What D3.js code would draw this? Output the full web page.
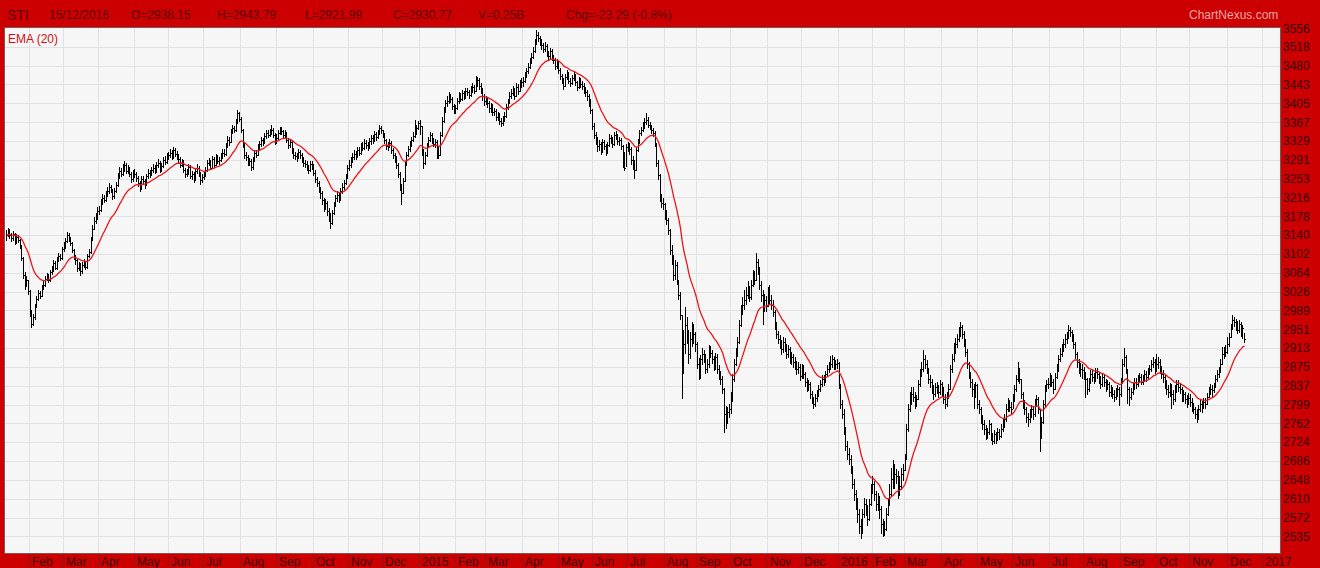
<!DOCTYPE html>
<html><head><meta charset="utf-8">
<script src="https://cdn.jsdelivr.net/npm/d3@7"></script>
<style>html,body{margin:0;padding:0;background:#cc0000;overflow:hidden}svg{display:block}</style>
</head><body><svg id="c" width="1320" height="568"></svg>
<script>
// ---- data ----
const monthLabels = ["Jan","Feb","Mar","Apr","May","Jun","Jul","Aug","Sep","Oct","Nov","Dec",
  "2015","Feb","Mar","Apr","May","Jun","Jul","Aug","Sep","Oct","Nov","Dec",
  "2016","Feb","Mar","Apr","May","Jun","Jul","Aug","Sep","Oct","Nov","Dec","2017"];
const monthDays = [14,20,21,21,20,21,22,21,22,21,20,22,
  21,18,22,21,20,21,22,19,20,22,20,22,
  20,19,22,21,21,22,20,22,21,20,22,21];
const yTicks = [3556,3518,3480,3443,3405,3367,3329,3291,3253,3216,3178,3140,3102,3064,3026,
  2989,2951,2913,2875,2837,2799,2762,2724,2686,2648,2610,2572,2535];
const headerItems = [["STI",7,14],["15/12/2016",49,12],["O=2938.15",131,12],["H=2943.79",217,12],
  ["L=2921.99",305,12],["C=2930.77",393,12],["V=0.25B",478,12],["Chg=-23.29 (-0.8%)",566,12]];
const emaPeriod = 20;

const closes = [
3140,3147,3139,3133,3141,3127,3136,3129,3118,3094,3060,3041,3049,3027,
2985,2962,2975,2998,3012,3024,3018,3035,3040,3052,3058,3049,3066,3071,3083,3074,3090,3098,3093,3111,
3118,3128,3140,3132,3124,3110,3095,3089,3074,3080,3067,3079,3085,3075,3097,3105,3130,3153,3168,3176,3189,
3190,3205,3215,3210,3222,3228,3236,3230,3218,3228,3240,3258,3268,3262,3272,3280,3268,3272,3262,3252,3265,
3262,3254,3244,3236,3252,3248,3240,3258,3265,3262,3270,3275,3268,3280,3284,3270,3278,3290,3286,3296,
3300,3305,3296,3310,3302,3298,3292,3280,3286,3270,3262,3266,3276,3258,3262,3254,3268,3275,3262,3250,3256,
3260,3270,3284,3286,3275,3292,3280,3296,3288,3290,3298,3305,3302,3318,3330,3326,3348,3355,3350,3368,3385,3374,
3350,3320,3300,3296,3285,3288,3276,3290,3305,3300,3316,3322,3330,3325,3338,3345,3340,3348,3352,3340,3327,
3335,3345,3352,3348,3340,3342,3330,3320,3326,3310,3300,3298,3296,3306,3300,3290,3284,3282,3275,3270,3282,3277,
3265,3252,3244,3232,3225,3210,3198,3205,3188,3180,3165,3184,3200,3214,3220,3212,3228,3236,3244,3256,3274,
3280,3290,3296,3302,3298,3310,3305,3318,3315,3325,3320,3316,3328,3334,3330,3342,3336,3346,3355,3350,
3340,3330,3318,3320,3325,3310,3300,3294,3280,3262,3236,3225,3248,3280,3300,3312,3320,3330,3338,3348,3355,3365,
3360,3310,3285,3300,3318,3330,3340,3330,3322,3326,3315,3300,3340,3370,3390,3405,3410,3418,3414,3400,3391,
3395,3410,3420,3414,3425,3418,3430,3428,3422,3434,3438,3430,3446,3452,3440,3432,3420,3410,
3412,3405,3395,3400,3388,3390,3378,3382,3370,3365,3374,3380,3398,3408,3420,3426,3432,3420,3438,3430,3445,3447,
3450,3462,3470,3478,3490,3498,3510,3528,3542,3536,3530,3522,3514,3520,3505,3500,3510,3498,3492,3480,3487,
3472,3460,3452,3440,3458,3465,3450,3446,3456,3462,3448,3438,3452,3444,3440,3432,3428,3420,3410,3392,
3360,3340,3332,3318,3322,3310,3326,3318,3308,3320,3335,3330,3322,3340,3338,3328,3330,3318,3300,3275,3317,
3320,3312,3290,3285,3270,3310,3325,3345,3350,3360,3368,3372,3362,3358,3350,3345,3325,3285,3260,3215,3205,3203,
3180,3170,3150,3110,3090,3060,3080,3050,3020,2980,2880,2920,2960,2940,2900,2930,2950,2940,2921,
2880,2860,2890,2900,2895,2870,2880,2910,2902,2890,2876,2895,2870,2860,2850,2830,2780,2770,2785,2791,
2810,2850,2880,2900,2925,2960,2990,3000,3010,3020,3030,3015,3040,3060,3050,3085,3070,3040,3020,3000,3010,2998,
3020,3010,3000,2985,2960,2940,2930,2920,2910,2925,2915,2900,2910,2890,2895,2885,2880,2870,2875,2856,
2870,2860,2845,2835,2840,2820,2808,2800,2812,2820,2830,2840,2850,2845,2860,2870,2875,2880,2890,2878,2880,2883,
2840,2800,2780,2750,2715,2700,2690,2670,2640,2620,2600,2580,2555,2545,2580,2600,2590,2570,2600,2629,
2640,2620,2600,2610,2590,2560,2545,2550,2580,2600,2620,2650,2640,2660,2655,2645,2635,2660,2667,
2690,2750,2790,2800,2820,2815,2800,2810,2840,2860,2870,2890,2880,2870,2850,2845,2830,2820,2835,2830,2825,2841,
2830,2810,2800,2815,2830,2870,2890,2910,2920,2930,2945,2955,2940,2925,2905,2880,2860,2845,2830,2820,2838,
2800,2790,2770,2760,2750,2740,2745,2760,2735,2725,2740,2730,2745,2735,2750,2760,2770,2790,2800,2795,2791,
2810,2830,2850,2870,2850,2820,2800,2790,2775,2770,2780,2790,2780,2800,2810,2790,2735,2765,2800,2830,2840,2841,
2850,2845,2830,2855,2870,2890,2900,2910,2920,2930,2935,2950,2945,2935,2920,2900,2885,2875,2870,2869,
2860,2850,2830,2845,2860,2855,2850,2865,2860,2850,2840,2855,2845,2835,2840,2825,2830,2820,2815,2825,2830,2820,
2845,2880,2895,2870,2830,2815,2825,2835,2845,2840,2850,2855,2845,2850,2860,2855,2865,2870,2880,2885,2869,
2880,2885,2870,2860,2855,2840,2830,2825,2835,2820,2810,2830,2840,2835,2830,2815,2820,2810,2805,2813,
2805,2795,2790,2780,2770,2790,2800,2795,2805,2800,2815,2825,2830,2828,2835,2850,2860,2865,2880,2900,2905,2905,
2920,2935,2955,2970,2965,2960,2950,2962,2945,2954,2931];

const highs = [
3150,3155,3152,3144,3148,3143,3142,3140,3132,3120,3096,3066,3058,3050,
3030,2990,2982,3002,3018,3030,3028,3040,3048,3058,3064,3062,3070,3078,3090,3088,3095,3104,3102,3116,
3125,3134,3146,3144,3136,3126,3112,3100,3092,3086,3084,3085,3092,3088,3102,3112,3136,3160,3176,3184,3196,
3198,3212,3222,3220,3228,3236,3244,3240,3232,3234,3246,3264,3276,3274,3282,3288,3284,3280,3276,3266,3270,
3272,3266,3258,3248,3258,3258,3252,3262,3272,3270,3276,3282,3280,3286,3292,3288,3284,3296,3298,3304,
3306,3312,3310,3316,3314,3308,3302,3296,3292,3290,3274,3272,3282,3280,3268,3266,3272,3282,3278,3266,3262,
3266,3276,3290,3294,3290,3298,3296,3302,3300,3296,3304,3312,3312,3324,3338,3336,3354,3362,3360,3374,3392,3388,
3378,3354,3324,3306,3300,3294,3292,3296,3310,3310,3322,3328,3336,3334,3344,3352,3350,3354,3362,3356,3344,
3342,3350,3358,3358,3352,3350,3346,3334,3332,3330,3314,3306,3304,3312,3310,3304,3296,3290,3288,3280,3288,3288,
3282,3270,3256,3248,3236,3228,3214,3212,3208,3194,3184,3190,3206,3220,3228,3226,3234,3244,3250,3262,3280,
3290,3296,3304,3310,3308,3316,3316,3324,3326,3332,3330,3326,3334,3340,3340,3348,3346,3352,3362,3360,
3352,3344,3332,3326,3332,3328,3314,3304,3298,3284,3266,3242,3254,3286,3306,3318,3328,3336,3346,3372,3362,3370,
3372,3360,3312,3306,3324,3336,3346,3344,3334,3332,3330,3318,3346,3378,3398,3412,3420,3428,3424,3418,3404,
3402,3416,3428,3426,3432,3430,3436,3436,3432,3440,3446,3442,3459,3458,3456,3446,3436,3424,
3420,3416,3410,3406,3404,3396,3394,3388,3386,3376,3380,3388,3404,3414,3428,3434,3440,3436,3446,3444,3452,3456,
3458,3468,3476,3486,3496,3506,3518,3534,3552,3548,3540,3534,3526,3528,3524,3510,3516,3514,3502,3496,3494,
3490,3476,3464,3456,3464,3472,3468,3456,3462,3468,3464,3450,3458,3456,3450,3446,3438,3432,3424,3414,
3394,3366,3346,3336,3330,3326,3332,3330,3322,3326,3342,3340,3336,3346,3348,3342,3336,3334,3320,3306,3322,
3326,3324,3316,3298,3290,3316,3332,3352,3358,3368,3376,3386,3378,3368,3362,3356,3348,3322,3290,3262,3222,3214,
3205,3190,3175,3152,3120,3100,3090,3085,3050,3025,2980,2950,2995,2975,2950,2945,2965,2962,2945,
2925,2892,2898,2912,2908,2900,2890,2918,2916,2908,2896,2902,2900,2878,2866,2856,2832,2796,2795,2800,
2825,2860,2890,2912,2935,2970,3000,3015,3030,3035,3048,3038,3050,3070,3068,3103,3092,3075,3048,3030,3022,3018,
3035,3040,3020,3010,2990,2966,2948,2938,2928,2934,2932,2920,2918,2914,2904,2900,2894,2886,2884,2880,
2880,2878,2865,2852,2848,2845,2826,2815,2820,2828,2838,2848,2858,2858,2866,2878,2884,2896,2898,2894,2888,2890,
2885,2840,2808,2790,2755,2725,2712,2698,2676,2650,2628,2612,2590,2570,2590,2612,2610,2598,2610,2640,
2655,2645,2625,2622,2615,2595,2570,2565,2592,2612,2640,2672,2687,2680,2670,2665,2655,2672,2680,
2700,2760,2800,2825,2835,2835,2825,2818,2848,2870,2885,2908,2898,2888,2872,2858,2850,2838,2842,2845,2838,2848,
2845,2835,2820,2825,2840,2878,2900,2922,2932,2940,2955,2966,2960,2948,2930,2910,2885,2865,2850,2840,2845,
2840,2808,2795,2778,2768,2758,2752,2768,2762,2742,2748,2745,2752,2750,2760,2770,2780,2800,2812,2808,2805,
2820,2838,2858,2884,2872,2850,2825,2808,2795,2782,2790,2798,2796,2810,2818,2815,2790,2775,2808,2838,2848,2852,
2862,2858,2850,2862,2880,2898,2912,2920,2930,2940,2945,2959,2956,2950,2940,2925,2905,2890,2882,2880,
2875,2865,2852,2852,2868,2868,2862,2872,2872,2865,2856,2862,2860,2850,2848,2845,2838,2835,2828,2832,2838,2835,
2852,2890,2912,2898,2870,2835,2832,2842,2852,2852,2858,2862,2860,2858,2868,2866,2872,2878,2888,2895,2890,
2901,2895,2890,2876,2868,2860,2848,2838,2842,2840,2828,2838,2848,2848,2842,2835,2828,2825,2818,2822,
2820,2812,2802,2795,2790,2798,2810,2806,2812,2812,2822,2834,2840,2838,2842,2858,2868,2875,2890,2914,2915,2918,
2934,2942,2962,2980,2976,2972,2968,2970,2966,2960,2944];

const lows = [
3128,3136,3132,3126,3128,3120,3122,3124,3112,3088,3052,3030,3035,3020,
2975,2954,2958,2970,2994,3008,3012,3015,3030,3036,3048,3044,3046,3060,3066,3070,3070,3085,3088,3090,
3105,3112,3124,3126,3118,3104,3090,3080,3066,3068,3058,3062,3074,3070,3072,3094,3102,3128,3150,3162,3170,
3180,3186,3200,3204,3206,3216,3222,3224,3210,3212,3224,3236,3252,3256,3258,3266,3262,3262,3256,3244,3246,
3255,3246,3236,3226,3230,3240,3232,3238,3252,3255,3258,3264,3262,3264,3274,3264,3266,3274,3280,3282,
3290,3294,3290,3292,3296,3290,3284,3274,3276,3264,3254,3256,3260,3252,3250,3244,3248,3262,3256,3240,3244,
3250,3256,3266,3278,3270,3272,3274,3278,3282,3280,3286,3292,3296,3298,3314,3318,3324,3342,3344,3346,3364,3368,
3344,3314,3292,3288,3278,3278,3268,3270,3286,3294,3298,3310,3316,3318,3322,3332,3334,3336,3340,3334,3320,
3322,3330,3340,3340,3334,3334,3324,3312,3314,3302,3292,3290,3286,3292,3292,3284,3276,3274,3268,3262,3266,3270,
3258,3244,3236,3224,3212,3200,3186,3190,3178,3166,3152,3160,3180,3196,3206,3204,3208,3222,3230,3240,3252,
3268,3274,3284,3290,3290,3294,3298,3300,3308,3310,3312,3308,3312,3320,3322,3326,3328,3332,3340,3342,
3334,3322,3310,3308,3314,3302,3292,3284,3272,3254,3228,3200,3222,3246,3278,3296,3306,3316,3326,3334,3340,3350,
3340,3298,3272,3280,3296,3314,3326,3322,3316,3314,3292,3292,3298,3336,3366,3386,3398,3404,3406,3392,3384,
3384,3392,3404,3408,3410,3412,3414,3420,3414,3418,3426,3424,3428,3438,3432,3424,3410,3400,
3402,3396,3386,3386,3380,3380,3370,3370,3362,3358,3360,3368,3376,3392,3404,3414,3420,3412,3418,3422,3428,3436,
3438,3446,3456,3464,3474,3484,3494,3506,3522,3528,3520,3512,3506,3508,3498,3490,3494,3490,3484,3472,3474,
3464,3452,3444,3432,3438,3452,3444,3438,3442,3450,3440,3430,3434,3436,3432,3424,3418,3410,3398,3384,
3352,3332,3320,3306,3308,3300,3304,3310,3298,3302,3316,3322,3314,3318,3330,3320,3318,3310,3274,3268,3276,
3306,3300,3280,3270,3252,3268,3306,3322,3338,3346,3354,3362,3356,3350,3342,3336,3316,3276,3250,3206,3194,3190,
3170,3160,3140,3100,3080,3048,3050,3040,3010,2970,2810,2860,2900,2920,2880,2890,2915,2920,2905,
2870,2848,2850,2878,2882,2860,2862,2872,2892,2880,2866,2868,2860,2848,2838,2820,2742,2750,2760,2772,
2780,2805,2845,2876,2895,2920,2955,2980,2990,3000,3012,3005,3010,3035,3040,3048,3060,3030,3005,2960,2985,2985,
2995,3000,2990,2975,2950,2930,2920,2910,2898,2902,2905,2890,2892,2880,2878,2872,2868,2858,2860,2846,
2850,2850,2835,2825,2826,2810,2800,2790,2795,2805,2815,2825,2835,2836,2842,2855,2862,2868,2872,2868,2868,2870,
2830,2790,2770,2738,2705,2688,2678,2660,2630,2606,2588,2562,2540,2528,2540,2572,2575,2555,2565,2595,
2620,2605,2585,2585,2570,2540,2532,2535,2545,2575,2595,2615,2630,2630,2640,2610,2615,2628,2645,
2665,2690,2745,2785,2800,2805,2790,2795,2808,2835,2855,2865,2870,2860,2840,2832,2820,2808,2815,2820,2812,2818,
2815,2800,2790,2795,2810,2828,2862,2885,2900,2912,2925,2935,2930,2915,2895,2870,2850,2832,2815,2790,2812,
2790,2780,2760,2748,2738,2728,2730,2738,2725,2718,2720,2720,2725,2728,2732,2745,2752,2765,2785,2785,2780,
2790,2805,2825,2845,2840,2810,2790,2778,2762,2755,2762,2772,2768,2775,2795,2780,2704,2730,2760,2795,2825,2830,
2835,2835,2820,2828,2850,2865,2885,2895,2905,2912,2920,2930,2935,2925,2910,2890,2872,2860,2855,2850,
2848,2812,2818,2825,2840,2845,2840,2845,2850,2840,2830,2835,2835,2825,2828,2815,2815,2810,2805,2808,2815,2796,
2815,2840,2875,2860,2800,2796,2808,2818,2828,2830,2835,2842,2838,2838,2845,2845,2850,2858,2865,2872,2860,
2865,2870,2860,2850,2842,2830,2818,2812,2815,2790,2798,2805,2822,2825,2820,2805,2805,2800,2792,2798,
2795,2785,2780,2770,2762,2768,2785,2782,2790,2790,2798,2812,2818,2815,2822,2834,2845,2852,2862,2878,2890,2894,
2900,2915,2932,2950,2955,2948,2940,2944,2935,2930,2922];

// ---- drawing ----
const W = 1320, H = 568;
const P = {left: 5, right: 1280, top: 28, bottom: 553};
const FONT = "'Liberation Sans', Arial, sans-serif";
const svg = d3.select("#c");

const totalDays = d3.sum(monthDays);
const x = d3.scaleLinear().domain([0, totalDays]).range([5.5, 1262]);
const y = d3.scaleLinear().domain([2535, 3556]).range([536, 28]);

svg.append("rect").attr("width", W).attr("height", H).attr("fill", "#cc0000");
svg.append("rect").attr("x", P.left).attr("y", P.top)
  .attr("width", P.right - P.left).attr("height", P.bottom - P.top).attr("fill", "#f6f6f6");

// horizontal grid + right labels
const gY = svg.append("g");
yTicks.forEach(v => {
  const yy = Math.round(y(v)) + 0.5;
  if (yy > P.top + 1) gY.append("line").attr("x1", P.left).attr("x2", P.right)
    .attr("y1", yy).attr("y2", yy).attr("stroke", "#e1e1e1").attr("stroke-width", 1);
  gY.append("text").attr("x", 1283).attr("y", y(v) + 4.5).text(v)
    .attr("font-family", FONT).attr("font-size", 12).attr("fill", "#3a0000");
});

// month boundaries
const starts = d3.cumsum([0].concat(monthDays)); // boundary indices, length 37
const gX = svg.append("g");
starts.forEach((s, k) => {
  if (k === 0) return;
  const xx = Math.round(x(s)) + 0.5;
  gX.append("line").attr("x1", xx).attr("x2", xx).attr("y1", P.top).attr("y2", P.bottom)
    .attr("stroke", "#e1e1e1");
  gX.append("line").attr("x1", xx).attr("x2", xx).attr("y1", P.bottom).attr("y2", H)
    .attr("stroke", "#8a1a1a");
  gX.append("text").attr("x", xx + 2.5).attr("y", 566).text(monthLabels[k])
    .attr("font-family", FONT).attr("font-size", 12).attr("fill", "#3a0000");
});

// plot border
svg.append("rect").attr("x", P.left - 0.5).attr("y", P.top - 0.5)
  .attr("width", P.right - P.left + 1).attr("height", P.bottom - P.top + 1)
  .attr("fill", "none").attr("stroke", "#7d5555");

// OHLC bars
const n = closes.length;
let dPath = "";
for (let i = 0; i < n; i++) {
  const xx = Math.round(x(i) + 0.6) + 0.5;
  const yh = Math.round(y(highs[i])), yl = Math.round(y(lows[i]));
  const yc = Math.round(y(closes[i])) + 0.5;
  dPath += `M${xx},${yh}V${Math.max(yl, yh + 1)}M${xx},${yc}h1.2`;
}
svg.append("path").attr("d", dPath).attr("stroke", "#000").attr("stroke-width", 1)
  .attr("fill", "none").attr("shape-rendering", "crispEdges");

// EMA(20)
const k = 2 / (emaPeriod + 1);
const ema = [];
closes.forEach((c, i) => ema.push(i === 0 ? c : c * k + ema[i - 1] * (1 - k)));
svg.append("path").datum(ema)
  .attr("d", d3.line().x((d, i) => x(i) + 1.1).y(d => y(d)))
  .attr("fill", "none").attr("stroke", "#e8171b").attr("stroke-width", 1.3);

// header
headerItems.forEach(([t, xx, fs]) => {
  svg.append("text").attr("x", xx).attr("y", fs === 14 ? 20 : 19).text(t)
    .attr("font-family", FONT).attr("font-size", fs).attr("fill", "#5e0000");
});
svg.append("text").attr("x", 1189).attr("y", 19).text("ChartNexus.com")
  .attr("font-family", FONT).attr("font-size", 12).attr("fill", "#eaa5a5");
svg.append("text").attr("x", 8).attr("y", 43).text("EMA (20)")
  .attr("font-family", FONT).attr("font-size", 12).attr("fill", "#d01010");
</script></body></html>
